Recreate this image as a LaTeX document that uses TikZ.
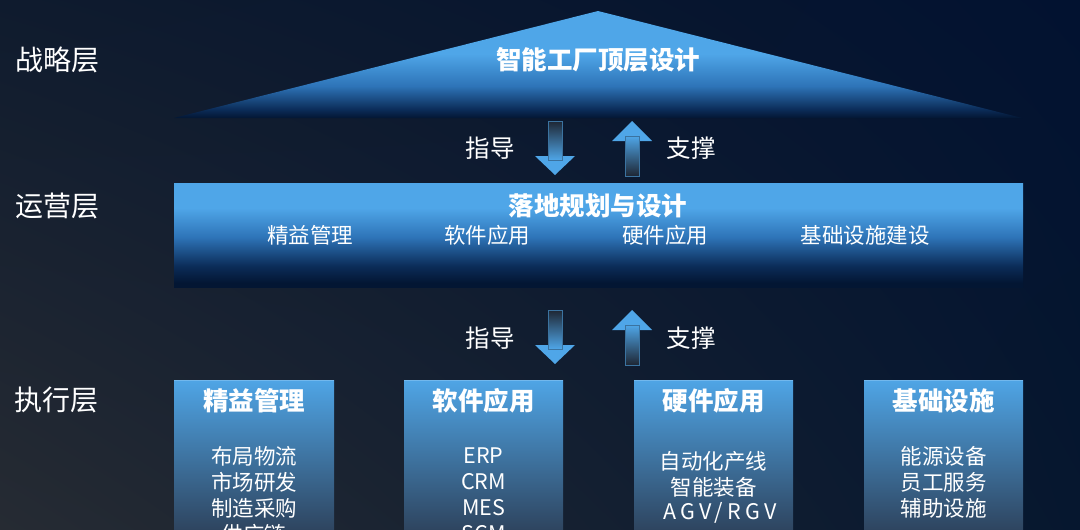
\documentclass[tikz,border=0pt]{standalone}
\usepackage{fontspec}
\setmainfont{Noto Sans CJK SC}
\usetikzlibrary{shadings}
\definecolor{bl}{HTML}{4FA6E8}
\definecolor{mb}{HTML}{2E74B8}
\definecolor{dk}{HTML}{031633}
\definecolor{dk2}{HTML}{0B2C58}
\definecolor{bgUL}{HTML}{0F1B2E}
\definecolor{bgUR}{HTML}{021230}
\definecolor{bgLL}{HTML}{262B33}
\definecolor{bgLR}{HTML}{06172F}
\definecolor{boxtop}{HTML}{4FA5E6}
\definecolor{boxbot}{HTML}{2C3E56}
\definecolor{shaftdk}{HTML}{1E2633}
\pgfdeclareverticalshading{trishade}{100bp}{color(0bp)=(dk); color(25bp)=(dk); color(29bp)=(dk2); color(40bp)=(mb); color(55bp)=(bl); color(100bp)=(bl)}
\pgfdeclareverticalshading{rectshade}{100bp}{color(0bp)=(dk); color(27bp)=(dk); color(35bp)=(dk2); color(49bp)=(mb); color(63bp)=(bl); color(100bp)=(bl)}
\tikzset{
  lay/.style={font=\fontsize{28}{28}\selectfont, text=white, inner sep=0},
  ttl/.style={font=\fontsize{25.5}{26}\selectfont\bfseries, text=white, inner sep=0},
  sub/.style={font=\fontsize{21.5}{22}\selectfont, text=white, inner sep=0},
  lbl/.style={font=\fontsize{24.5}{25}\selectfont, text=white, inner sep=0},
  head/.style={fill=bl},
  downshaft/.style={top color=shaftdk, bottom color=bl, draw=bl!60!shaftdk, line width=0.4pt},
  upshaft/.style={top color=bl, bottom color=shaftdk, draw=bl!60!shaftdk, line width=0.4pt},
  colbox/.style={top color=boxtop, bottom color=boxbot}
}
\begin{document}
\begin{tikzpicture}[x=1pt,y=-1pt]
\useasboundingbox (0,0) rectangle (1080,530);
\clip (0,0) rectangle (1080,530);
% background
\shade[upper left=bgUL, upper right=bgUR, lower left=bgLL, lower right=bgLR] (0,0) rectangle (1080,530);

% layer labels
\node[lay] (l1) at (58,60) {战略层};
\node[lay] (l2) at (58,206) {运营层};
\node[lay] (l3) at (57,400) {执行层};

% strategy triangle
\coordinate (tA) at (598,11);
\coordinate (tL) at (174,118);
\coordinate (tR) at (1022,118);
\shade[shading=trishade] (tL) -- (tA) -- (tR) -- cycle;
\node[ttl] (top) at (598,60) {智能工厂顶层设计};

% operations rectangle
\shade[shading=rectshade] (174,183) rectangle (1023,287);
\node[ttl] (ops) at (598,206) {落地规划与设计};
\node[sub] (o1) at (310,235) {精益管理};
\node[sub] (o2) at (487,235) {软件应用};
\node[sub] (o3) at (665,235) {硬件应用};
\node[sub] (o4) at (865,235) {基础设施建设};

% arrows between strategy and operations
\fill[head] (535,156) -- (575,156) -- (555,175) -- cycle;
\shade[downshaft] (548,121) rectangle (562,160);
\fill[head] (612,141) -- (652,141) -- (632,121) -- cycle;
\shade[upshaft] (625,136) rectangle (639,176);
\node[lbl] (g1) at (490,148) {指导};
\node[lbl] (s1) at (691,148) {支撑};

% arrows between operations and execution
\fill[head] (535,345) -- (575,345) -- (555,364) -- cycle;
\shade[downshaft] (548,310) rectangle (562,349);
\fill[head] (612,330) -- (652,330) -- (632,310) -- cycle;
\shade[upshaft] (625,325) rectangle (639,365);
\node[lbl] (g2) at (490,338) {指导};
\node[lbl] (s2) at (691,338) {支撑};

% execution boxes
\shade[colbox] (174,380) rectangle (334,540);
\shade[colbox] (404,380) rectangle (563,540);
\shade[colbox] (634,380) rectangle (793,540);
\shade[colbox] (864,380) rectangle (1023,540);
\draw[bl!80!white, line width=0.8pt] (174,380.4) -- (334,380.4) (404,380.4) -- (563,380.4) (634,380.4) -- (793,380.4) (864,380.4) -- (1023,380.4);

\node[ttl] (e1) at (254,401) {精益管理};
\node[sub] (e1a) at (254,456) {布局物流};
\node[sub] (e1b) at (254,482) {市场研发};
\node[sub] (e1c) at (254,508) {制造采购};
\node[sub] (e1d) at (254,534) {供应链};

\node[ttl] (e2) at (483.5,401) {软件应用};
\node[sub] (e2a) at (483.5,456) {ERP};
\node[sub] (e2b) at (483.5,482) {CRM};
\node[sub] (e2c) at (483.5,508) {MES};
\node[sub] (e2d) at (483.5,534) {SCM};

\node[ttl] (e3) at (713.5,401) {硬件应用};
\node[sub] (e3a) at (713.5,461) {自动化产线};
\node[sub] (e3b) at (713.5,487) {智能装备};
\node[sub, font=\fontsize{21.5}{22}\selectfont\addfontfeature{LetterSpace=20}] (e3c) at (720,513) {AGV/RGV};

\node[ttl] (e4) at (943.5,401) {基础设施};
\node[sub] (e4a) at (943.5,456) {能源设备};
\node[sub] (e4b) at (943.5,482) {员工服务};
\node[sub] (e4c) at (943.5,508) {辅助设施};
\end{tikzpicture}
\end{document}
